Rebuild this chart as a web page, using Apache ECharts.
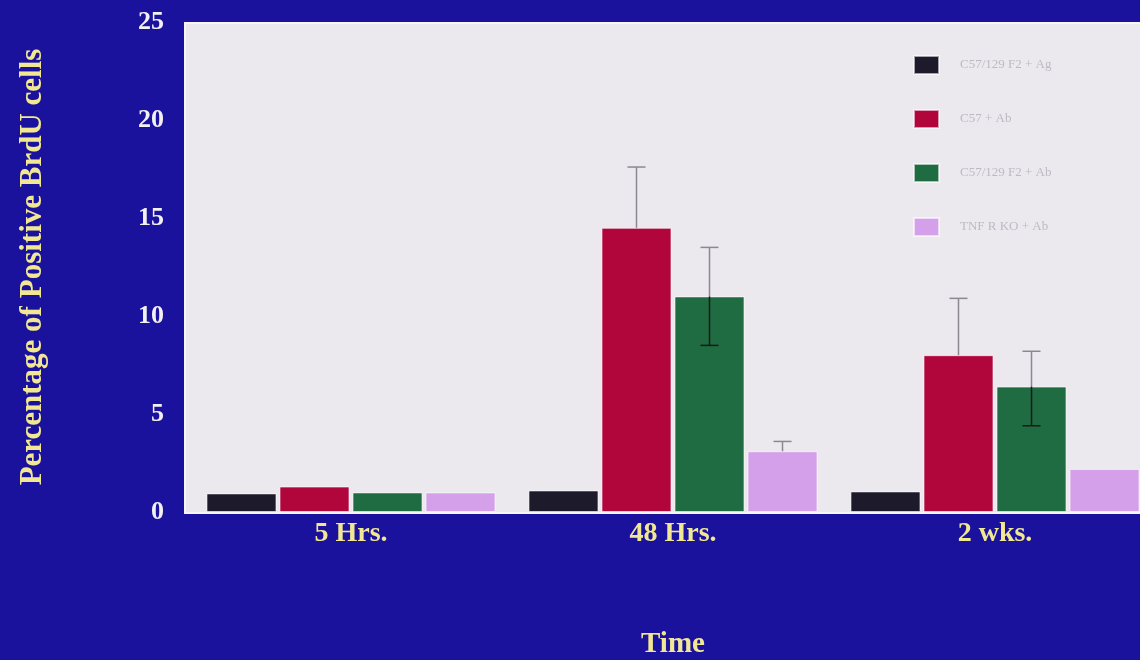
<!DOCTYPE html>
<html>
<head>
<meta charset="utf-8">
<script src="https://cdn.jsdelivr.net/npm/echarts@6/dist/echarts.min.js"></script>
<style>
  html, body { margin: 0; padding: 0; background: #1a129c; }
  #chart { width: 1140px; height: 660px; }
</style>
</head>
<body>
<div id="chart"></div>
<script>
// Time points on the x axis
const categories = ['5 Hrs.', '48 Hrs.', '2 wks.'];

// Group names
const seriesNames = ['C57/129 F2 + Ag', 'C57 + Ab', 'C57/129 F2 + Ab', 'TNF R KO + Ab'];

// Percentage of BrdU-positive cells per group
const valuesF2Ag = [0.95, 1.1, 1.05];
const valuesC57Ab = [1.3, 14.5, 8.0];
const valuesF2Ab = [1.0, 11.0, 6.4];
const valuesTnfKo = [1.0, 3.1, 2.2];

// Error bar ends (upper and lower); null where no whisker is drawn
const errHighC57Ab = [null, 17.6, 10.9];
const errLowC57Ab = [null, null, null];
const errHighF2Ab = [null, 13.5, 8.2];
const errLowF2Ab = [null, 8.5, 4.4];
const errHighTnfKo = [null, 3.6, null];
const errLowTnfKo = [null, null, null];

// Y axis ticks
const yMin = 0, yMax = 25, yStep = 5;

const barColors = ['#1d1a2b', '#b0063c', '#1f6b42', '#d5a0ea'];
const BAR_W = 70;
const GAP_PCT = 4.3;
const gapPx = BAR_W * GAP_PCT / 100;
const barValues = [valuesF2Ag, valuesC57Ab, valuesF2Ab, valuesTnfKo];

function errorSeries(idx, highs, lows) {
  const data = categories.map((c, i) => [i, highs[i], lows[i]]);
  return {
    type: 'custom',
    name: seriesNames[idx] + ' error',
    z: 5,
    silent: true,
    renderItem: function (params, api) {
      const ci = api.value(0);
      const hi = api.value(1);
      const lo = api.value(2);
      const base = barValues[idx][ci];
      const offset = (idx - 1.5) * (BAR_W + gapPx);
      const children = [];
      const capHalf = 9;
      const pBase = api.coord([ci, base]);
      const x = pBase[0] + offset;
      if (hi !== null && !isNaN(hi)) {
        const pHi = api.coord([ci, hi]);
        children.push({ type: 'line', shape: { x1: x, y1: pBase[1], x2: x, y2: pHi[1] }, style: { stroke: '#8a8890', lineWidth: 1.5 } });
        children.push({ type: 'line', shape: { x1: x - capHalf, y1: pHi[1], x2: x + capHalf, y2: pHi[1] }, style: { stroke: '#8a8890', lineWidth: 1.5 } });
      }
      if (lo !== null && !isNaN(lo)) {
        const pLo = api.coord([ci, lo]);
        children.push({ type: 'line', shape: { x1: x, y1: pBase[1], x2: x, y2: pLo[1] }, style: { stroke: '#1a1a1a', lineWidth: 1.5 } });
        children.push({ type: 'line', shape: { x1: x - capHalf, y1: pLo[1], x2: x + capHalf, y2: pLo[1] }, style: { stroke: '#1a1a1a', lineWidth: 1.5 } });
      }
      return { type: 'group', children: children };
    },
    data: data
  };
}

const barSeries = barValues.map((vals, i) => ({
  type: 'bar',
  name: seriesNames[i],
  data: vals,
  barWidth: BAR_W,
  barGap: GAP_PCT + '%',
  itemStyle: { color: barColors[i], borderColor: 'rgba(255,255,255,0.6)', borderWidth: 1 }
}));

const chart = echarts.init(document.getElementById('chart'), null, { renderer: 'canvas' });
chart.setOption({
  backgroundColor: '#1a129c',
  animation: false,
  textStyle: { fontFamily: 'Liberation Serif' },
  // light plotting panel, running off the right edge
  graphic: [{
    type: 'rect', left: 184, top: 22, z: -10,
    shape: { width: 970, height: 490 },
    style: { fill: '#ebe9ee', stroke: '#f6f5f8', lineWidth: 2 }
  }],
  grid: {
    left: 190, top: 22, width: 966, bottom: 148,
    outerBoundsMode: 'none',
    containLabel: false
  },
  legend: {
    orient: 'vertical',
    left: 908, top: 50,
    itemWidth: 25, itemHeight: 18, itemGap: 34,
    icon: 'rect',
    data: seriesNames,
    textStyle: { color: '#bcbac3', fontSize: 13, fontFamily: 'Liberation Serif', padding: [0, 0, 0, 16] }
  },
  xAxis: {
    type: 'category',
    data: categories,
    axisLine: { show: false },
    axisTick: { show: false },
    axisLabel: { color: '#f2e894', fontSize: 28, fontWeight: 'bold', fontFamily: 'Liberation Serif', margin: 8 },
    name: 'Time',
    nameLocation: 'middle',
    nameGap: 118,
    nameTextStyle: { color: '#f2e894', fontSize: 29, fontWeight: 'bold', fontFamily: 'Liberation Serif' }
  },
  yAxis: {
    type: 'value',
    min: yMin, max: yMax, interval: yStep,
    splitLine: { show: false },
    axisLine: { show: false },
    axisTick: { show: false },
    axisLabel: { color: '#f2f0f0', fontSize: 26, fontWeight: 'bold', fontFamily: 'Liberation Serif', margin: 26 },
    name: 'Percentage of Positive BrdU cells',
    nameLocation: 'middle',
    nameGap: 142,
    nameRotate: 90,
    nameTextStyle: { color: '#f2e894', fontSize: 31, fontWeight: 'bold', fontFamily: 'Liberation Serif' }
  },
  series: barSeries.concat([
    errorSeries(1, errHighC57Ab, errLowC57Ab),
    errorSeries(2, errHighF2Ab, errLowF2Ab),
    errorSeries(3, errHighTnfKo, errLowTnfKo)
  ])
});
</script>
</body>
</html>
